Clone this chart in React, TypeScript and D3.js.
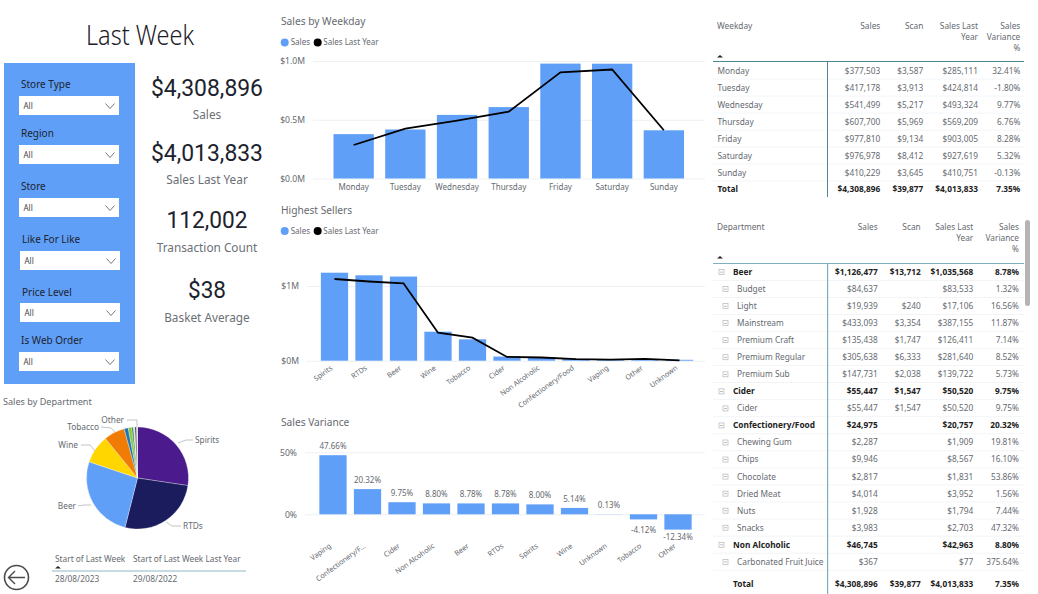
import { useEffect, useRef } from "react"
import * as d3 from "d3"

const weekdays = ["Monday", "Tuesday", "Wednesday", "Thursday", "Friday", "Saturday", "Sunday"]
const weekdaySales = [377503, 417178, 541499, 607700, 977810, 976978, 410229]
const weekdayLastYear = [285111, 424814, 493324, 569209, 903005, 927619, 410751]
const weekdayTicks = [0, 500000, 1000000]

const departments = ["Spirits", "RTDs", "Beer", "Wine", "Tobacco", "Cider", "Non Alcoholic", "Confectionery/Food", "Vaping", "Other", "Unknown"]
const departmentSales = [1178000, 1143000, 1126477, 388000, 286000, 55447, 46745, 24975, 20000, 22000, 12000]
const departmentLastYear = [1094000, 1060000, 1035568, 375000, 308000, 50520, 42963, 20757, 14000, 25000, 5000]
const departmentTicks = [0, 1000000]
const pieColors = ["#4b1a8c", "#1b1c5e", "#5f9ff7", "#ffd600", "#f07c05", "#1f78b4", "#8cc63f", "#2e8b57", "#d9d9d9", "#333333", "#e8e8e8"]

const varianceDepartments = ["Vaping", "Confectionery/F...", "Cider", "Non Alcoholic", "Beer", "RTDs", "Spirits", "Wine", "Unknown", "Tobacco", "Other"]
const varianceValues = [47.66, 20.32, 9.75, 8.8, 8.78, 8.78, 8.0, 5.14, 0.13, -4.12, -12.34]
const varianceTicks = [0, 50]

const weekdayRows = [
  ["Monday", "$377,503", "$3,587", "$285,111", "32.41%"],
  ["Tuesday", "$417,178", "$3,913", "$424,814", "-1.80%"],
  ["Wednesday", "$541,499", "$5,217", "$493,324", "9.77%"],
  ["Thursday", "$607,700", "$5,969", "$569,209", "6.76%"],
  ["Friday", "$977,810", "$9,134", "$903,005", "8.28%"],
  ["Saturday", "$976,978", "$8,412", "$927,619", "5.32%"],
  ["Sunday", "$410,229", "$3,645", "$410,751", "-0.13%"],
]
const totalRow = ["Total", "$4,308,896", "$39,877", "$4,013,833", "7.35%"]
const tableHeader = [["Sales"], ["Scan"], ["Sales Last", "Year"], ["Sales", "Variance", "%"]]

// first entry: 0 = group row, 1 = child row
const departmentRows: [number, string, string, string, string, string][] = [
  [0, "Beer", "$1,126,477", "$13,712", "$1,035,568", "8.78%"],
  [1, "Budget", "$84,637", "", "$83,533", "1.32%"],
  [1, "Light", "$19,939", "$240", "$17,106", "16.56%"],
  [1, "Mainstream", "$433,093", "$3,354", "$387,155", "11.87%"],
  [1, "Premium Craft", "$135,438", "$1,747", "$126,411", "7.14%"],
  [1, "Premium Regular", "$305,638", "$6,333", "$281,640", "8.52%"],
  [1, "Premium Sub", "$147,731", "$2,038", "$139,722", "5.73%"],
  [0, "Cider", "$55,447", "$1,547", "$50,520", "9.75%"],
  [1, "Cider", "$55,447", "$1,547", "$50,520", "9.75%"],
  [0, "Confectionery/Food", "$24,975", "", "$20,757", "20.32%"],
  [1, "Chewing Gum", "$2,287", "", "$1,909", "19.81%"],
  [1, "Chips", "$9,946", "", "$8,567", "16.10%"],
  [1, "Chocolate", "$2,817", "", "$1,831", "53.86%"],
  [1, "Dried Meat", "$4,014", "", "$3,952", "1.56%"],
  [1, "Nuts", "$1,928", "", "$1,794", "7.44%"],
  [1, "Snacks", "$3,983", "", "$2,703", "47.32%"],
  [0, "Non Alcoholic", "$46,745", "", "$42,963", "8.80%"],
  [1, "Carbonated Fruit Juice", "$367", "", "$77", "375.64%"],
]

const slicers = ["Store Type", "Region", "Store", "Like For Like", "Price Level", "Is Web Order"]
const kpiValues = ["$4,308,896", "$4,013,833", "112,002", "$38"]
const kpiLabels = ["Sales", "Sales Last Year", "Transaction Count", "Basket Average"]

const UI = "'Noto Sans', 'Open Sans', sans-serif"
const NUM = "Roboto, sans-serif"
const BLUE = "#5f9ff7"
const GREY = "#666a70"
const GRID = "#eef0f3"

type G = d3.Selection<SVGGElement, unknown, null, undefined>

function label(g: G, x: number, y: number, s: string, size: number, fill = GREY, anchor = "start", weight = 400) {
  return g
    .append("text")
    .attr("x", x)
    .attr("y", y)
    .attr("dy", "0.35em")
    .attr("text-anchor", anchor)
    .attr("font-family", UI)
    .attr("font-size", size)
    .attr("font-weight", weight)
    .attr("fill", fill)
    .text(s)
}

function legend(g: G, y: number) {
  g.append("circle").attr("cx", 284.7).attr("cy", y).attr("r", 4).attr("fill", BLUE)
  label(g, 290.7, y, "Sales", 8)
  g.append("circle").attr("cx", 317.7).attr("cy", y).attr("r", 4).attr("fill", "#000")
  label(g, 323.3, y, "Sales Last Year", 8)
}

function yAxis(g: G, y: d3.ScaleLinear<number, number>, ticks: number[], x0: number, x1: number, fmt: (d: number) => string) {
  const axis = g
    .append("g")
    .attr("transform", `translate(${x0},0)`)
    .call(d3.axisLeft(y).tickValues(ticks).tickSize(x0 - x1).tickPadding(8).tickFormat((d) => fmt(+d)))
  axis.select(".domain").remove()
  axis.selectAll(".tick line").attr("stroke", GRID)
  axis.selectAll("text").attr("fill", GREY).attr("font-family", UI).attr("font-size", 8.6)
}

function bars(g: G, names: string[], values: number[], x: d3.ScaleBand<string>, y: d3.ScaleLinear<number, number>) {
  g.selectAll(null)
    .data(values)
    .enter()
    .append("rect")
    .attr("x", (_, i) => x(names[i]) || 0)
    .attr("width", x.bandwidth())
    .attr("y", (d) => Math.min(y(d), y(0)))
    .attr("height", (d) => Math.abs(y(d) - y(0)))
    .attr("fill", BLUE)
}

function line(g: G, names: string[], values: number[], x: d3.ScaleBand<string>, y: d3.ScaleLinear<number, number>) {
  const path = d3
    .line<number>()
    .x((_, i) => (x(names[i]) || 0) + x.bandwidth() / 2)
    .y((d) => y(d))
  g.append("path").attr("d", path(values)).attr("fill", "none").attr("stroke", "#000").attr("stroke-width", 1.8)
}

function slantedLabels(g: G, names: string[], x: d3.ScaleBand<string>, y0: number) {
  names.forEach((n) => {
    const cx = (x(n) || 0) + x.bandwidth() / 2
    g.append("text")
      .attr("transform", `translate(${cx - 1.5},${y0}) rotate(-36)`)
      .attr("text-anchor", "end")
      .attr("font-family", UI)
      .attr("font-size", 7.2)
      .attr("fill", GREY)
      .text(n)
  })
}

function tableText(g: G, row: string[], y: number, rights: number[], bold: boolean, fill: string) {
  row.forEach((s, i) => {
    if (s) label(g, rights[i], y, s, 8.3, fill, "end", bold ? 700 : 400)
  })
}

function tableHead(g: G, title: string, y: number, rights: number[]) {
  label(g, 717, y, title, 8.3)
  tableHeader.forEach((lines, i) => {
    lines.forEach((s, j) => label(g, rights[i], y + j * 11, s, 8.3, GREY, "end"))
  })
}

export default function App() {
  const ref = useRef<SVGSVGElement>(null)

  useEffect(() => {
    const svg = d3.select(ref.current!)
    svg.selectAll("*").remove()
    const g = svg.append("g") as unknown as G

    // left column
    label(g, 140, 36, "Last Week", 27, "#1c2029", "middle", 300).attr("textLength", 108).attr("lengthAdjust", "spacingAndGlyphs")
    g.append("rect").attr("x", 4).attr("y", 63).attr("width", 131).attr("height", 321).attr("fill", BLUE)
    const slicerLabelY = [84, 133, 186, 239, 292, 340]
    const slicerBoxY = [96, 145, 198, 251, 303, 352]
    const slicerBoxX = [19, 19, 19, 20, 20, 19]
    slicers.forEach((s, i) => {
      label(g, slicerBoxX[i] + 2, slicerLabelY[i], s, 10, "#1d2430")
      g.append("rect").attr("x", slicerBoxX[i]).attr("y", slicerBoxY[i]).attr("width", 100).attr("height", 19).attr("fill", "#fff")
      label(g, slicerBoxX[i] + 4.5, slicerBoxY[i] + 10.5, "All", 8, "#444")
      const cx = slicerBoxX[i] + 91
      const cy = slicerBoxY[i] + 10
      g.append("path")
        .attr("d", d3.line()([[cx - 4.5, cy - 2.5], [cx, cy + 2.5], [cx + 4.5, cy - 2.5]]))
        .attr("fill", "none")
        .attr("stroke", "#555")
        .attr("stroke-width", 0.8)
    })

    const kpiY = [88, 153, 220, 290]
    const kpiLabelY = [115, 180, 248, 318]
    const kpiWidths = [112, 112, 81, 38]
    kpiValues.forEach((s, i) => {
      label(g, 207, kpiY[i], s, 24, "#1c232e", "middle", 400)
        .attr("font-family", NUM)
        .attr("textLength", kpiWidths[i])
        .attr("lengthAdjust", "spacingAndGlyphs")
      label(g, 207, kpiLabelY[i], kpiLabels[i], 11.8, "#6b6f75", "middle")
    })

    // pie
    label(g, 3, 401.5, "Sales by Department", 9.1)
    const pieData = d3.pie<number>().sort(null)(departmentSales)
    const arc = d3.arc<d3.PieArcDatum<number>>().innerRadius(0).outerRadius(51)
    const pieG = g.append("g").attr("transform", "translate(137.5,478)")
    pieG
      .selectAll("path")
      .data(pieData)
      .enter()
      .append("path")
      .attr("d", arc)
      .attr("fill", (_, i) => pieColors[i])
      .attr("stroke", "#fff")
      .attr("stroke-width", 0.3)
    const pieLeaders: [string, string, number, number, string][] = [
      ["Spirits", "M178,443 L186,440 L193,440", 195, 440, "start"],
      ["RTDs", "M166,522 L172,526 L181,526", 183, 526.5, "start"],
      ["Beer", "M91,505 L84,505 L78,506", 76, 506, "end"],
      ["Wine", "M95,451 L90,445 L81,445", 78, 445, "end"],
      ["Tobacco", "M115,432 L111,428 L101,427", 99, 427, "end"],
      ["Other", "M137,427 L137,420 L127,420", 124, 420, "end"],
    ]
    pieLeaders.forEach(([s, d, x, y, anchor]) => {
      g.append("path").attr("d", d).attr("fill", "none").attr("stroke", "#aaa").attr("stroke-width", 0.7)
      label(g, x, y, s, 8.3, GREY, anchor)
    })

    // date table
    label(g, 55, 559.5, "Start of Last Week", 8.3)
    label(g, 133, 559.5, "Start of Last Week Last Year", 8.3)
    g.append("path").attr("d", "M55,568.5 l3,-2.5 l3,2.5 z").attr("fill", "#222")
    g.append("rect").attr("x", 52).attr("y", 570.5).attr("width", 194).attr("height", 1).attr("fill", "#8fb8c6")
    label(g, 55, 579, "28/08/2023", 8.3)
    label(g, 133, 579, "29/08/2022", 8.3)
    g.append("circle").attr("cx", 16.5).attr("cy", 577.5).attr("r", 12).attr("fill", "#fff").attr("stroke", "#4a4a4a").attr("stroke-width", 1.6)
    g.append("path").attr("d", "M25,577.5 H9 M15,571 L8.5,577.5 L15,584").attr("fill", "none").attr("stroke", "#4a4a4a").attr("stroke-width", 1.4)

    // sales by weekday
    label(g, 281, 21, "Sales by Weekday", 10.2)
    legend(g, 42.5)
    const x1 = d3.scaleBand().domain(weekdays).range([327.8, 689.7]).paddingInner(0.22).paddingOuter(0.11)
    const y1 = d3.scaleLinear().domain([0, 1000000]).range([178.5, 61])
    yAxis(g, y1, weekdayTicks, 705, 313, (d) => `$${(d / 1000000).toFixed(1)}M`)
    bars(g, weekdays, weekdaySales, x1, y1)
    line(g, weekdays, weekdayLastYear, x1, y1)
    weekdays.forEach((d) => label(g, (x1(d) || 0) + x1.bandwidth() / 2, 187, d, 8, GREY, "middle"))

    // highest sellers
    label(g, 281, 210, "Highest Sellers", 10.2)
    legend(g, 231)
    const x2 = d3.scaleBand().domain(departments).range([317.25, 696.75]).paddingInner(0.21).paddingOuter(0.105)
    const y2 = d3.scaleLinear().domain([0, 1000000]).range([360.7, 286])
    yAxis(g, y2, departmentTicks, 705, 307, (d) => `$${d / 1000000}M`)
    bars(g, departments, departmentSales, x2, y2)
    line(g, departments, departmentLastYear, x2, y2)
    slantedLabels(g, departments, x2, 369)

    // sales variance
    label(g, 281, 422.5, "Sales Variance", 10.2)
    const x3 = d3.scaleBand().domain(varianceDepartments).range([315.75, 695.25]).paddingInner(0.21).paddingOuter(0.105)
    const y3 = d3.scaleLinear().domain([0, 50]).range([514.3, 452.3])
    yAxis(g, y3, varianceTicks, 705, 305, (d) => `${d}%`)
    bars(g, varianceDepartments, varianceValues, x3, y3)
    varianceValues.forEach((v, i) => {
      const cx = (x3(varianceDepartments[i]) || 0) + x3.bandwidth() / 2
      label(g, cx, v < 0 ? Math.max(y3(v) + 8, 530) : y3(v) - 9, `${v.toFixed(2)}%`, 8, GREY, "middle")
    })
    slantedLabels(g, varianceDepartments, x3, 547)

    // weekday table
    const rightsA = [880.3, 923.3, 978, 1020.3]
    tableHead(g, "Weekday", 26, rightsA)
    g.append("path").attr("d", "M717,57.5 l3,-2.5 l3,2.5 z").attr("fill", "#222")
    weekdayRows.forEach((r, i) => {
      const y = 70.7 + i * 17
      label(g, 717.5, y, r[0], 8.3)
      tableText(g, r.slice(1), y, rightsA, false, GREY)
      g.append("rect").attr("x", 713).attr("y", y + 8).attr("width", 311).attr("height", 0.7).attr("fill", GRID)
    })
    label(g, 717.5, 189.5, totalRow[0], 8.3, "#222", "start", 700)
    tableText(g, totalRow.slice(1), 189.5, rightsA, true, "#222")
    g.append("rect").attr("x", 713).attr("y", 61).attr("width", 311).attr("height", 1).attr("fill", "#4f8796")
    g.append("rect").attr("x", 827).attr("y", 61).attr("width", 1).attr("height", 136).attr("fill", "#4f8796")

    // department table
    const rightsB = [877.7, 920.7, 973.3, 1019]
    tableHead(g, "Department", 227, rightsB)
    g.append("path").attr("d", "M717,258.5 l3,-2.5 l3,2.5 z").attr("fill", "#222")
    departmentRows.forEach((r, i) => {
      const y = 272 + i * 17.05
      const [child, name, ...cells] = r
      const boxX = child ? 723 : 719
      g.append("rect").attr("x", boxX).attr("y", y - 2.5).attr("width", 5).attr("height", 5).attr("fill", "#fff").attr("stroke", "#b5b5b5").attr("stroke-width", 0.7)
      g.append("rect").attr("x", boxX + 1.2).attr("y", y - 0.2).attr("width", 2.6).attr("height", 0.6).attr("fill", "#888")
      label(g, child ? 737 : 733, y, name, 8.3, child ? GREY : "#222", "start", child ? 400 : 700)
      tableText(g, cells, y, rightsB, !child, child ? GREY : "#222")
      g.append("rect").attr("x", 713).attr("y", y + 8).attr("width", 311).attr("height", 0.7).attr("fill", GRID)
    })
    g.append("rect").attr("x", 713).attr("y", 263).attr("width", 311).attr("height", 1).attr("fill", "#7fb0bd")
    g.append("rect").attr("x", 712).attr("y", 575).attr("width", 316).attr("height", 19).attr("fill", "#fff")
    label(g, 733, 584, totalRow[0], 8.3, "#222", "start", 700)
    tableText(g, totalRow.slice(1), 584, rightsB, true, "#222")
    g.append("rect").attr("x", 827).attr("y", 263).attr("width", 1.2).attr("height", 331).attr("fill", "#7fb0bd")
    g.append("rect").attr("x", 1025).attr("y", 220).attr("width", 5).attr("height", 86).attr("rx", 2.5).attr("fill", "#b4b4b4")
  }, [])

  return <svg ref={ref} width={1038} height={594} style={{ position: "absolute", left: 0, top: 0, background: "#fff" }} />
}
